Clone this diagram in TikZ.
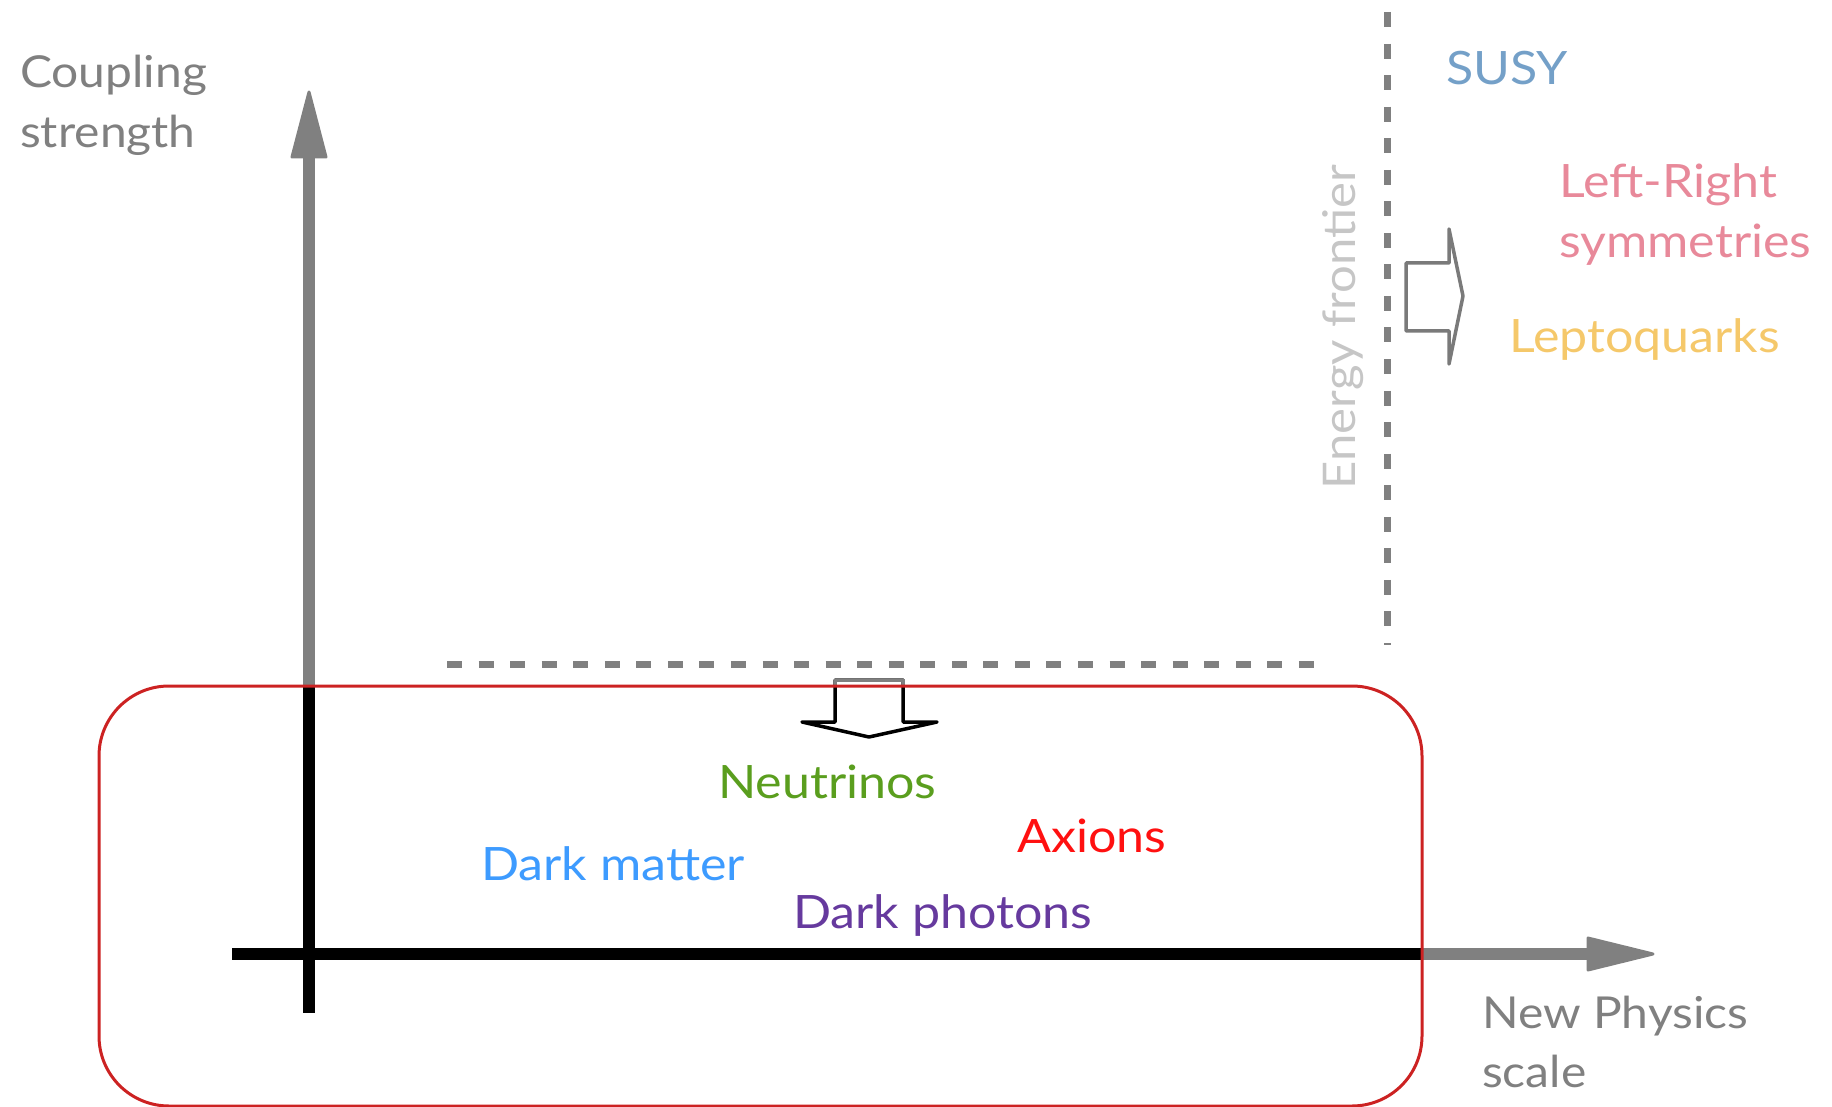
\documentclass[tikz,border=0pt]{standalone}
\usepackage{fontspec}
\setmainfont{Lato}[FakeStretch=1.09]
\definecolor{axisgray}{HTML}{808080}
\definecolor{framered}{HTML}{CC2222}
\definecolor{susyblue}{HTML}{74A0C8}
\definecolor{lrpink}{HTML}{E8899A}
\definecolor{lqyellow}{HTML}{F5C86A}
\definecolor{nugreen}{HTML}{5A9E1E}
\definecolor{axred}{HTML}{FF1010}
\definecolor{dmblue}{HTML}{3D9BFF}
\definecolor{dpurple}{HTML}{663A9E}
\definecolor{efgray}{HTML}{C6C6C6}
\tikzset{
  lbl/.style={inner sep=0pt, anchor=base west, font=\fontsize{46}{50}\selectfont},
  glbl/.style={lbl, text=axisgray, font=\fontsize{44}{50}\selectfont},
  dashline/.style={draw=axisgray, line width=7pt, dash pattern=on 15pt off 16.55pt},
  hollowarrow/.style={line width=3.5pt, line join=round, line cap=round}
}
\begin{document}
\begin{tikzpicture}[x=1pt,y=-1pt]
\useasboundingbox (0,0) rectangle (1832,1107);
% coordinates
\coordinate (ytip) at (309,92);
\coordinate (ybase) at (309,157);
\coordinate (yin) at (309,687);
\coordinate (yend) at (309,1013);
\coordinate (xstart) at (232,954);
\coordinate (xin) at (1422,954);
\coordinate (xbase) at (1590,954);
\coordinate (xtip) at (1653,954);
% vertical axis
\draw[axisgray, line width=12pt] (ybase) -- (yin);
\fill[axisgray, draw=axisgray, line width=3pt, line join=round] (ytip) -- ([xshift=-17pt]ybase) -- ([xshift=17pt]ybase) -- cycle;
\draw[black, line width=12pt] (yin) -- (yend);
% horizontal axis
\draw[black, line width=12pt] (xstart) -- (xin);
\draw[axisgray, line width=12pt] (xin) -- (xbase);
\fill[axisgray, draw=axisgray, line width=3pt, line join=round] (xtip) -- ([yshift=-16pt]1588,954) -- ([yshift=16pt]1588,954) -- cycle;
% dashed lines
\coordinate (hd1) at (447,664);
\coordinate (hd2) at (1317,664);
\coordinate (vd1) at (1387,12);
\coordinate (vd2) at (1387,645);
\draw[dashline] (hd1) -- (hd2);
\draw[dashline] (vd1) -- (vd2);
% right hollow arrow
\draw[axisgray!95!black, hollowarrow] (1406,263) -- (1449,263) -- (1449,229) -- (1463,296) -- (1449,364) -- (1449,331) -- (1406,331) -- cycle;
% down hollow arrow
\draw[black, hollowarrow] (835,680) -- (903,680) -- (903,722) -- (937,722) -- (869,737) -- (802,722) -- (835,722) -- cycle;
\begin{scope}
\clip (700,600) rectangle (1000,686);
\draw[axisgray, hollowarrow] (835,680) -- (903,680) -- (903,722) -- (937,722) -- (869,737) -- (802,722) -- (835,722) -- cycle;
\end{scope}
% red frame
\draw[framered, line width=3pt, rounded corners=70pt] (99,686) rectangle (1422,1106);
% labels
\node[glbl] (coup1) at (20,88) {Coupling};
\node[glbl] (coup2) at (20,148) {strength};
\node[glbl] (nps1) at (1482,1028) {New Physics};
\node[glbl] (nps2) at (1482,1087) {scale};
\node[lbl, text=efgray, anchor=base, rotate=90, font=\fontsize{45}{50}\selectfont] (ef) at (1355,327) {Energy frontier};
\node[lbl, text=susyblue] (susy) at (1446,85) {SUSY};
\node[lbl, text=lrpink] (lr1) at (1559,198) {Left-Right};
\node[lbl, text=lrpink] (lr2) at (1559,258) {symmetries};
\node[lbl, text=lqyellow] (lq) at (1509,353) {Leptoquarks};
\node[lbl, text=nugreen] (nu) at (718,798) {Neutrinos};
\node[lbl, text=axred] (ax) at (1017,852) {Axions};
\node[lbl, text=dmblue] (dm) at (481,880) {Dark matter};
\node[lbl, text=dpurple] (dp) at (793,928) {Dark photons};
\end{tikzpicture}
\end{document}
